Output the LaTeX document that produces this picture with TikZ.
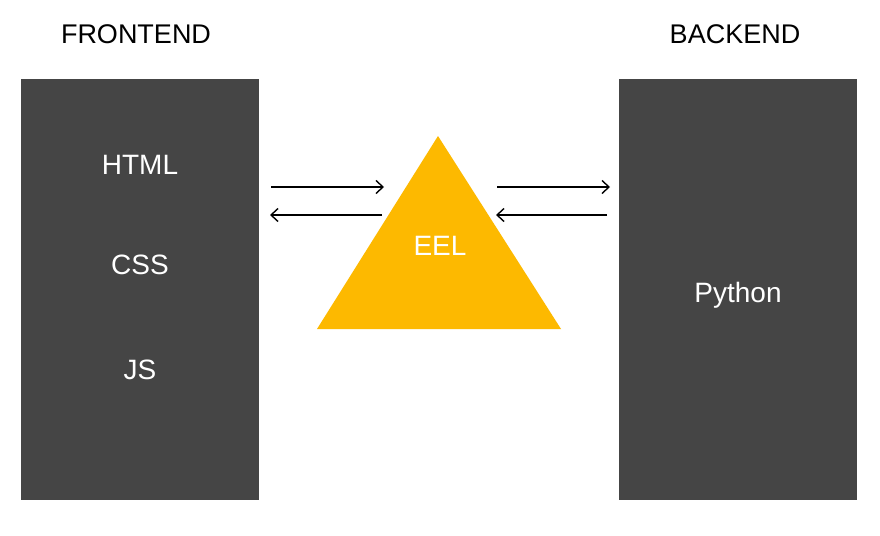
\documentclass[tikz,border=0pt]{standalone}
\usepackage{fontspec}
\setmainfont{Liberation Sans}
\usetikzlibrary{arrows.meta}
\definecolor{boxgray}{HTML}{454545}
\definecolor{eelyellow}{HTML}{FDB900}
\begin{document}
\begin{tikzpicture}[x=1pt,y=-1pt,
  panel/.style={fill=boxgray,draw=none},
  head/.style={font=\fontsize{27}{31}\selectfont,text=black},
  lbl/.style={font=\fontsize{28}{32}\selectfont,text=white},
  link/.style={line width=1.4pt,-{Straight Barb[length=7pt,width=13pt,line width=1.4pt]}}]
\useasboundingbox (0,0) rectangle (880,535);
\fill[white] (0,0) rectangle (880,535);
\node[panel,minimum width=238pt,minimum height=421pt,inner sep=0pt] (front) at (140,289.5) {};
\node[panel,minimum width=238pt,minimum height=421pt,inner sep=0pt] (back) at (738,289.5) {};
\fill[eelyellow] (317,329) coordinate (tl) -- (438,136) coordinate (apex) -- (561,329) coordinate (tr) -- cycle;
\node[head] (fronthead) at (136,34) {FRONTEND};
\node[head] (backhead) at (735,34) {BACKEND};
\node[lbl] (html) at (140,165) {HTML};
\node[lbl] (css) at (140,265) {CSS};
\node[lbl] (js) at (140,370) {JS};
\node[lbl] (eel) at (440,246) {EEL};
\node[lbl] (py) at (738,295) {Python};
\coordinate (a1s) at (271,187); \coordinate (a1e) at (384,187);
\coordinate (a2s) at (382,215); \coordinate (a2e) at (270,215);
\coordinate (a3s) at (497,187); \coordinate (a3e) at (610,187);
\coordinate (a4s) at (607,215); \coordinate (a4e) at (496,215);
\draw[link] (a1s) -- (a1e);
\draw[link] (a2s) -- (a2e);
\draw[link] (a3s) -- (a3e);
\draw[link] (a4s) -- (a4e);
\end{tikzpicture}
\end{document}
